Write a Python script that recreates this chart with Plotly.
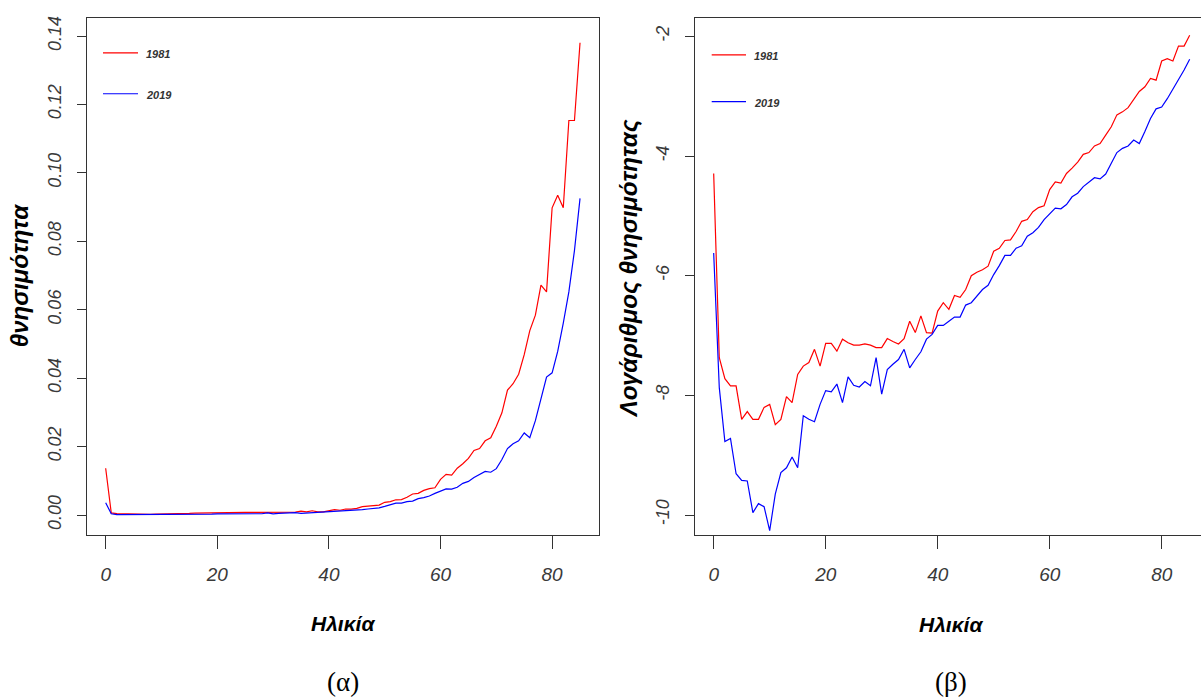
import numpy as np
import plotly.graph_objects as go

ages = list(range(0, 86))

# log mortality rates
log_1981 = [-4.29, -7.37, -7.72, -7.84, -7.84, -8.40, -8.27, -8.40, -8.40, -8.20,
            -8.15, -8.49, -8.40, -8.02, -8.12, -7.65, -7.51, -7.45, -7.23, -7.51,
            -7.13, -7.13, -7.26, -7.06, -7.12, -7.16, -7.16, -7.14, -7.16, -7.20,
            -7.20, -7.05, -7.10, -7.14, -7.05, -6.76, -6.95, -6.67, -6.95, -6.96,
            -6.59, -6.45, -6.56, -6.33, -6.36, -6.23, -6.00, -5.94, -5.90, -5.84,
            -5.59, -5.54, -5.41, -5.40, -5.26, -5.09, -5.06, -4.93, -4.86, -4.83,
            -4.56, -4.43, -4.45, -4.29, -4.20, -4.10, -3.97, -3.94, -3.83, -3.79,
            -3.65, -3.51, -3.31, -3.26, -3.19, -3.06, -2.92, -2.84, -2.70, -2.73,
            -2.41, -2.37, -2.41, -2.16, -2.16, -1.98]

log_2019 = [-5.62, -7.87, -8.77, -8.72, -9.31, -9.42, -9.43, -9.96, -9.81, -9.86,
            -10.26, -9.65, -9.29, -9.21, -9.03, -9.21, -8.34, -8.40, -8.44, -8.15,
            -7.92, -7.94, -7.81, -8.12, -7.69, -7.83, -7.86, -7.77, -7.84, -7.37,
            -7.98, -7.57, -7.48, -7.40, -7.23, -7.54, -7.40, -7.27, -7.06, -6.98,
            -6.83, -6.83, -6.76, -6.69, -6.69, -6.49, -6.45, -6.33, -6.23, -6.16,
            -5.98, -5.83, -5.66, -5.66, -5.54, -5.50, -5.34, -5.28, -5.19, -5.06,
            -4.96, -4.87, -4.88, -4.81, -4.68, -4.62, -4.51, -4.43, -4.36, -4.38,
            -4.30, -4.12, -3.94, -3.87, -3.83, -3.73, -3.79, -3.59, -3.37, -3.21,
            -3.18, -3.04, -2.88, -2.73, -2.56, -2.38]

# mortality rates (left panel) are the same data on the natural scale
mx_1981 = list(np.exp(np.array(log_1981)))
mx_2019 = list(np.exp(np.array(log_2019)))

x_ticks = [0, 20, 40, 60, 80]
left_yticks = [0.00, 0.02, 0.04, 0.06, 0.08, 0.10, 0.12, 0.14]
left_ytext = ["0.00", "0.02", "0.04", "0.06", "0.08", "0.10", "0.12", "0.14"]
right_yticks = [-10, -8, -6, -4, -2]
right_ytext = ["-10", "-8", "-6", "-4", "-2"]

RED = "#FF0000"
BLUE = "#0000FF"
AXC = "#333333"
W, H = 1201, 698

fig = go.Figure()
fig.add_trace(go.Scatter(x=ages, y=mx_1981, mode="lines", line=dict(color=RED, width=1.2),
                         xaxis="x", yaxis="y", showlegend=False))
fig.add_trace(go.Scatter(x=ages, y=mx_2019, mode="lines", line=dict(color=BLUE, width=1.2),
                         xaxis="x", yaxis="y", showlegend=False))
fig.add_trace(go.Scatter(x=ages, y=log_1981, mode="lines", line=dict(color=RED, width=1.2),
                         xaxis="x2", yaxis="y2", showlegend=False))
fig.add_trace(go.Scatter(x=ages, y=log_2019, mode="lines", line=dict(color=BLUE, width=1.2),
                         xaxis="x2", yaxis="y2", showlegend=False))

tickfont = dict(family="Liberation Sans, Arial", size=18, color="#3a3a3a", style="italic")

def px_x(p):
    return p / W

def px_y(p):
    return 1 - p / H

ydom = [px_y(534.3), px_y(16)]

common_x = dict(showline=True, linecolor=AXC, linewidth=1.3, ticks="outside", ticklen=13,
                tickwidth=1.3, tickcolor=AXC, showgrid=False, zeroline=False,
                tickvals=x_ticks, tickfont=dict(tickfont, size=19), ticklabelstandoff=9)
common_y = dict(showline=True, linecolor=AXC, linewidth=1.3, ticks="outside", ticklen=9,
                tickwidth=1.3, tickcolor=AXC, showgrid=False, zeroline=False,
                tickangle=-90, tickfont=tickfont, ticklabelstandoff=8)

fig.update_layout(
    width=W, height=H,
    margin=dict(l=0, r=0, t=0, b=0),
    paper_bgcolor="white", plot_bgcolor="white",
    xaxis=dict(common_x, domain=[px_x(86.7), px_x(599)], range=[-3.4, 88.4], mirror=True,
               anchor="y"),
    yaxis=dict(common_y, domain=ydom, range=[-0.00575, 0.1453], mirror=True,
               tickvals=left_yticks, ticktext=left_ytext, anchor="x"),
    xaxis2=dict(common_x, domain=[px_x(694.7), 1.0], range=[-3.39, 87.02], mirror=True,
                anchor="y2"),
    yaxis2=dict(common_y, domain=ydom, range=[-10.33, -1.69], mirror=False,
                tickvals=right_yticks, ticktext=right_ytext, anchor="x2"),
)

ytitle_font = dict(family="Liberation Sans, Arial", size=24, color="black", weight="bold", style="italic")
xtitle_font = dict(family="Liberation Sans, Arial", size=21, color="black", weight="bold", style="italic")
ann = []
ann.append(dict(text="θνησιμότητα", x=px_x(19), y=px_y(275), xref="paper", yref="paper",
                showarrow=False, textangle=-90, font=ytitle_font, xanchor="center", yanchor="middle"))
ann.append(dict(text="Λογάριθμος θνησιμότητας", x=px_x(628), y=px_y(268), xref="paper", yref="paper",
                showarrow=False, textangle=-90, font=ytitle_font, xanchor="center", yanchor="middle"))
ann.append(dict(text="Ηλικία", x=px_x(343), y=px_y(623), xref="paper", yref="paper",
                showarrow=False, font=xtitle_font, xanchor="center", yanchor="middle"))
ann.append(dict(text="Ηλικία", x=px_x(951), y=px_y(624), xref="paper", yref="paper",
                showarrow=False, font=xtitle_font, xanchor="center", yanchor="middle"))
cap_font = dict(family="Liberation Serif, Times New Roman", size=27, color="black")
ann.append(dict(text="(α)", x=px_x(343), y=px_y(682), xref="paper", yref="paper",
                showarrow=False, font=cap_font, xanchor="center", yanchor="middle"))
ann.append(dict(text="(β)", x=px_x(951), y=px_y(682), xref="paper", yref="paper",
                showarrow=False, font=cap_font, xanchor="center", yanchor="middle"))

leg_font = dict(family="Liberation Sans, Arial", size=11, color="#333333", weight="bold", style="italic")
legends = [
    # (line x0, line x1, y, text x, label, color)
    (103, 138, 51, 144, "1981", RED),
    (103, 138, 92, 144, "2019", BLUE),
    (711.7, 746, 53, 752, "1981", RED),
    (711.7, 746, 100, 752, "2019", BLUE),
]
shapes = []
for x0, x1, yy, tx, lab, col in legends:
    shapes.append(dict(type="line", xref="paper", yref="paper", x0=px_x(x0), x1=px_x(x1),
                       y0=px_y(yy), y1=px_y(yy), line=dict(color=col, width=1.2)))
    ann.append(dict(text=lab, x=px_x(tx), y=px_y(yy + 1.5), xref="paper", yref="paper",
                    showarrow=False, font=leg_font, xanchor="left", yanchor="middle"))

fig.update_layout(annotations=ann, shapes=shapes)

fig.write_html("out.html")
